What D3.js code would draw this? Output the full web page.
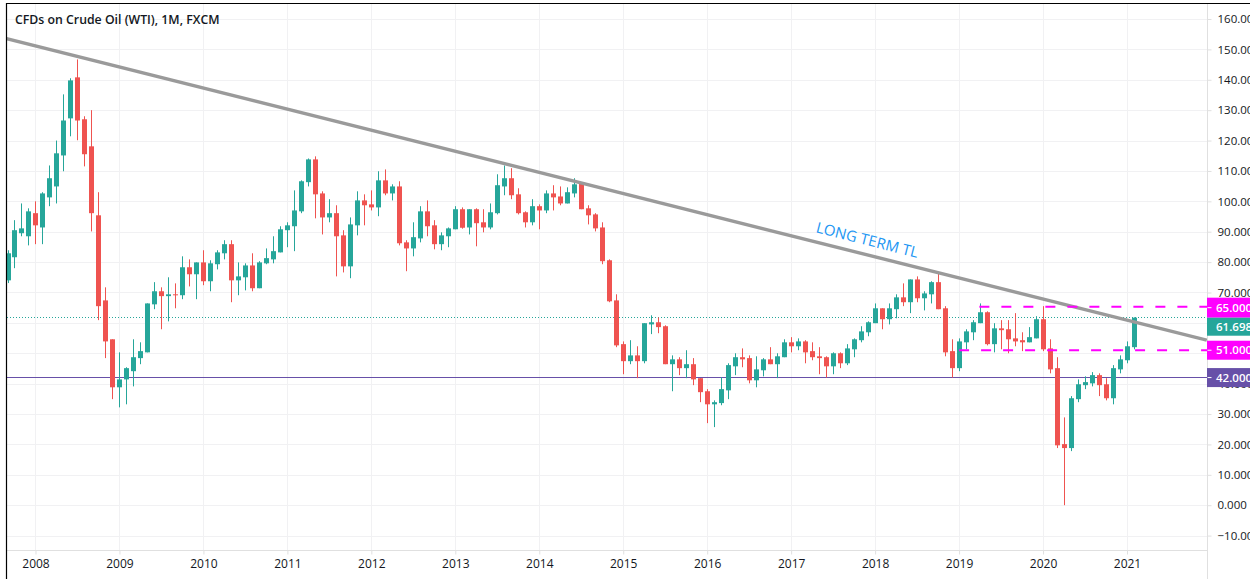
<!DOCTYPE html>
<html><head><meta charset="utf-8">
<script src="https://cdn.jsdelivr.net/npm/d3@7"></script>
<style>
html,body{margin:0;padding:0;background:#fff;overflow:hidden}
svg{display:block}
text{font-family:"Open Sans",sans-serif}
</style></head><body>
<svg id="c" width="1250" height="579"></svg>
<script>
const title = "CFDs on Crude Oil (WTI), 1M, FXCM";
const opens = [74,81.6,89.5,88.5,96.1,91.4,101.3,104.9,115.1,127.3,140.8,127,118.1,95.4,67.4,54.6,
38.8,41.4,44.1,48.4,50.3,66.1,70.4,68.8,69.4,69.1,78.3,76,
79.9,73.7,79.3,82.9,85.9,74,75,78.9,71.4,79.6,80.9,83.2,
90.5,91.8,96.7,106.3,113.8,102.6,94.7,96.1,88.8,78.6,92.1,100.3,
99,98,106.9,102.6,104.9,86.5,84.5,87.8,96.7,92.1,85.9,88.5,
90.8,97.4,91.4,97.4,93.1,91.4,96.1,104.9,107.6,102.3,96.4,93.1,
98.4,97,102.6,101.6,99.3,102.6,105.8,97.7,95.7,91.4,80.6,67.4,
53,47.4,49.3,47.4,59.5,60.2,58.9,46.4,48,45.1,46.4,41.8,
37.5,33.2,33.6,37.8,45.7,48.7,48.4,41.1,44.4,48,46.4,48.7,
53.6,52.3,53.9,50.7,49,48.7,45.7,50,46.7,51.3,54.3,56.9,
59.9,64.8,61.2,64.5,68.4,66.8,74.3,68.1,69.4,73.4,64.8,50.7,
45.1,53.6,56.9,59.9,63.5,53,58.2,57.9,54.9,54.3,53.6,54.9,
61.2,51.6,45.1,20.1,18.8,34.9,39.5,40.1,42.8,39.8,35.2,44.7,
47.7,52];
const highs = [83.9,93.8,99.3,97.7,100,103,111.8,120,135.2,140.5,146.7,128,130,103,71.7,54.6,
50.3,45.4,54.6,53.6,66.4,73.4,71.7,75,73,81.9,80.9,79.9,
83.9,80.6,83.9,87.2,87.2,79.9,79.6,82.9,80.3,84.5,88.5,91.8,
93.1,103.6,106.9,114.1,114.8,103.3,100.7,98.7,90.5,94.7,103.3,102.3,
103.6,109.9,110.5,105.6,106.6,87.2,93.1,98.4,100.3,93.8,89.8,91.4,
98.4,98,97.4,97.7,97.4,99.3,108.9,111.8,110.9,104.3,96.7,100.7,
99,103.6,105.3,104.9,104.6,107.6,106.3,98.7,96.1,93.1,80.9,69.4,
53.9,54.3,52.3,59.9,62.5,61.8,59.2,49.3,48.7,51,48.4,41.8,
38.2,34.5,42.1,46.7,50,51.6,49.3,49,48.4,52,50,54.6,
55.3,54.9,54.3,53.6,52,49,50.3,50.3,53,54.9,58.9,60.5,
66.4,64.8,66.4,69.4,73,74.3,75.3,70.4,73.7,76.6,65.5,54.6,
54.9,57.9,60.9,66.4,63.8,59.9,60.9,60.9,63.2,56.9,58.6,62.2,
65.5,54.6,48.7,28.9,35.9,41.4,42.4,43.8,43.4,41.8,46.1,49.3,
53.9,61.8];
const lows = [73.1,78,88.5,85.5,85.9,85.9,98.4,99.3,109.9,121.4,120.1,111.5,90.1,60.9,48.4,34.9,
32.2,33.2,39.1,46.4,50.3,64.5,57.9,60.5,64.8,67.8,72,67.8,
72.4,70.4,77.6,80.9,66.8,69.1,70.7,70.4,71.4,79.3,79.6,83.2,
84.9,83.6,96.1,104.9,94.4,89.1,93.1,75.3,76.6,74.7,88.8,92.1,
97,95.1,102,100.3,85.5,77,81.9,86.5,88.5,84.2,83.9,84.9,
90.8,91,89.1,85.2,89.8,90.8,95.7,102,100.7,95.7,91.4,92.1,
90.8,96.1,97,98.7,99.3,101.3,97.4,92.4,90.1,79.3,66.8,52,
43.1,46.4,41.8,46.7,56.3,56.6,46.4,37.5,42.8,41.8,39.5,33.9,
27,25.7,32.9,34.9,42.8,45.4,40.1,38.8,42.4,46.4,41.8,48.7,
50.3,51,46.7,47.7,43.1,42,43.1,45.1,46.1,48.7,53.6,55.6,
59.9,57.9,59.5,61.5,65.5,63.2,66.8,64.1,66.4,64.5,49,42,
44.1,51.3,54.3,59.9,52.6,50.3,51.3,50,52.3,50.7,53.6,54.9,
50.7,43.4,18.8,0,17.8,33.9,38.2,39.1,35.9,34.5,33.2,43.4,
46.7,51.3];
const closes = [82.9,90.5,91.1,96.7,92.1,102.6,107.6,115.8,126.6,139.8,126.6,115.5,96.1,65.5,53.9,38.8,
41.4,45.1,48.7,50.7,66.4,70.4,68.8,69.4,69.1,78.3,76,79.9,
73.7,79.6,83.2,85.9,74,75.3,78.9,71.4,79.9,81.3,83.6,90.8,
92.1,97,106.6,113.8,102.3,94.7,96.1,88.5,78.6,92.4,100.3,98.7,
98,106.9,102.6,104.9,86.2,84.5,88.2,96.7,91.8,85.9,88.8,91.1,
97.4,91.3,97.4,92.8,91.4,96.4,105.3,107.6,102,96.1,93.1,98.4,
97,102.6,101.3,99.3,103,105.6,97.4,95.4,91.1,80.3,67.1,52.6,
47.4,49.3,47.4,59.9,60.2,58.6,46.4,48,45.1,46.4,41.4,37.2,
33.2,33.9,38.2,46.1,48.7,48,41.1,44.7,48,46.4,49,53.6,
52.3,53.9,50.3,48.7,48.4,45.7,50,46.7,51.6,54.6,57.2,60.2,
64.8,61.2,64.8,68.4,66.8,74.3,68.1,69.7,73.4,64.5,50.3,45.1,
53.9,57.2,60.2,63.5,53,58.2,57.6,54.6,53.9,53.6,55.3,61.2,
51.3,44.7,19.7,18.8,35.2,39.8,40.5,42.8,39.5,35.2,45.1,48,
52.3,61.698];
const yearLabels = [2008,2009,2010,2011,2012,2013,2014,2015,2016,2017,2018,2019,2020,2021];
const yearCandle = [4,16,28,40,52,64,76,88,100,112,124,136,148,160];
const priceTicks = [160,150,140,130,120,110,100,90,80,70,60,50,40,30,20,10,0,-10];
const trendIndex = [-0.2,171.4];
const trendValue = [153.6,54.3];
const resistance = {level:65.3, from:138.9};
const pivot = {level:51, from:136};
const support = 42;
const lastPrice = 61.698;

const svg = d3.select("#c");
const L=7,R=1207,T=4,B=550;
const x = d3.scaleLinear().domain([0,161]).range([7.5,1134]);
const y = d3.scaleLinear().domain([0,160]).range([505.2,19]);
const UP="#26a69a",DOWN="#ef5350",GRID="#f1f1f3",AXIS="#e0e0e0",MAG="#ff00ff",PUR="#6750a8",INK="#131722";
const n3=d3.format(".3f");
const fmt=v=>n3(v).replace("-","\u2212");

svg.append("defs").append("clipPath").attr("id","plot").append("rect")
  .attr("x",L).attr("y",T).attr("width",R-L).attr("height",B-T);

// grid
const g=svg.append("g").attr("clip-path","url(#plot)");
g.append("g").selectAll("line").data(priceTicks).join("line")
  .attr("x1",L).attr("x2",R).attr("y1",d=>Math.round(y(d))+.5).attr("y2",d=>Math.round(y(d))+.5)
  .attr("stroke",GRID).attr("stroke-width",1);
g.append("g").selectAll("line").data(yearCandle).join("line")
  .attr("x1",d=>Math.round(x(d))+.5).attr("x2",d=>Math.round(x(d))+.5).attr("y1",T).attr("y2",B)
  .attr("stroke",GRID).attr("stroke-width",1);

// last price and support
g.append("line").attr("x1",L).attr("x2",R).attr("y1",Math.floor(y(lastPrice))+.5).attr("y2",Math.floor(y(lastPrice))+.5)
  .attr("stroke",UP).attr("stroke-width",1).attr("stroke-dasharray","1 2");
g.append("line").attr("x1",L).attr("x2",R).attr("y1",Math.floor(y(support))+.5).attr("y2",Math.floor(y(support))+.5)
  .attr("stroke",PUR).attr("stroke-width",1);

// candles
const idx=d3.range(closes.length);
const col=i=>closes[i]>=opens[i]?UP:DOWN;
g.append("g").selectAll("line").data(idx).join("line")
  .attr("x1",i=>Math.round(x(i))+.5).attr("x2",i=>Math.round(x(i))+.5)
  .attr("y1",i=>y(highs[i])).attr("y2",i=>y(lows[i])).attr("stroke",col).attr("stroke-width",1);
g.append("g").selectAll("rect").data(idx).join("rect")
  .attr("x",i=>Math.round(x(i))-2).attr("width",5)
  .attr("y",i=>y(Math.max(opens[i],closes[i])))
  .attr("height",i=>Math.max(1,Math.abs(y(opens[i])-y(closes[i]))))
  .attr("fill",col);

// trend line
g.append("line").attr("x1",x(trendIndex[0])).attr("x2",x(trendIndex[1]))
  .attr("y1",y(trendValue[0])).attr("y2",y(trendValue[1]))
  .attr("stroke","#9a9a9a").attr("stroke-width",3.4);

// dashed levels
[resistance,pivot].forEach(l=>{
  g.append("line").attr("x1",x(l.from)).attr("x2",R).attr("y1",y(l.level)).attr("y2",y(l.level))
   .attr("stroke",MAG).attr("stroke-width",2).attr("stroke-dasharray","10 12");
});

svg.append("text").attr("text-anchor","middle")
  .attr("transform",`translate(866,245) rotate(14.2)`)
  .attr("font-size",15).attr("fill","#2196f3").text("LONG TERM TL");

// axes
const ay=d3.axisRight(y).tickValues(priceTicks).tickSize(4).tickPadding(6).tickFormat(fmt);
const gy=svg.append("g").attr("transform",`translate(${R+.5},0)`).call(ay);
gy.select(".domain").remove();
gy.selectAll("line").attr("stroke",AXIS);
gy.selectAll("text").attr("font-size",11.5).attr("fill",INK);
svg.append("line").attr("x1",R+.5).attr("x2",R+.5).attr("y1",T).attr("y2",579).attr("stroke",AXIS);

const ax=d3.axisBottom(x).tickValues(yearCandle).tickSize(4).tickPadding(5)
  .tickFormat((d,i)=>yearLabels[i]);
const gx=svg.append("g").attr("transform",`translate(0,${B+.5})`).call(ax);
gx.select(".domain").remove();
gx.selectAll("line").attr("stroke",AXIS);
gx.selectAll("text").attr("font-size",12).attr("fill",INK);
svg.append("line").attr("x1",L).attr("x2",R).attr("y1",B+.5).attr("y2",B+.5).attr("stroke",AXIS);

// price labels
[{v:65,c:MAG,h:20},{v:lastPrice,c:UP,h:18,dy:9},{v:51,c:MAG,h:19},{v:support,c:PUR,h:19}].forEach(l=>{
  const cy=y(l.v)+(l.dy||0);
  svg.append("rect").attr("x",R).attr("y",cy-l.h/2).attr("width",1250-R).attr("height",l.h).attr("fill",l.c);
  if(!l.dy) svg.append("line").attr("x1",R+.5).attr("x2",R+4.5).attr("y1",cy).attr("y2",cy).attr("stroke","#fff");
  svg.append("text").attr("x",1216).attr("y",cy).attr("dy","0.35em").attr("font-size",11.5).attr("font-weight",600)
    .attr("fill","#fff").text(n3(l.v));
});

// title & frame
svg.append("text").attr("x",15).attr("y",24).attr("font-size",12.3).attr("font-weight",600).attr("fill",INK).text(title);
svg.append("line").attr("x1",6).attr("x2",1250).attr("y1",3.5).attr("y2",3.5).attr("stroke","#000").attr("stroke-width",1.2);
svg.append("line").attr("x1",6.5).attr("x2",6.5).attr("y1",3).attr("y2",579).attr("stroke","#000").attr("stroke-width",1.2);
</script></body></html>
